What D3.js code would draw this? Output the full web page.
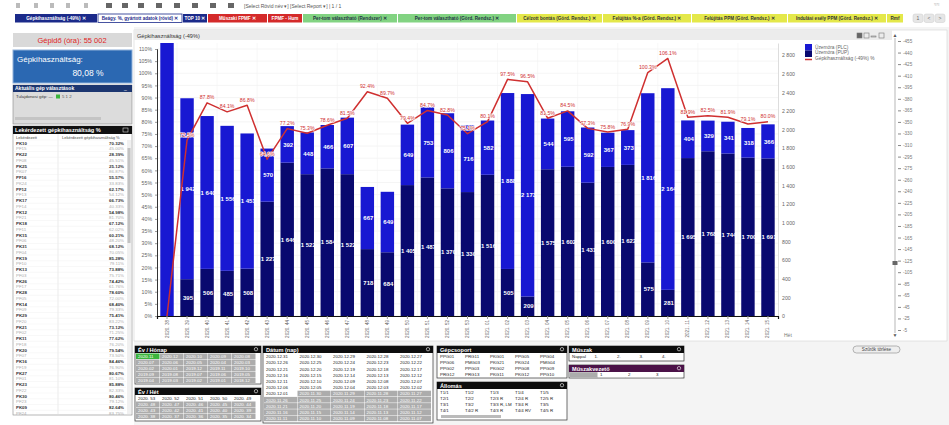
<!DOCTYPE html>
<html>
<head>
<meta charset="utf-8">
<title>Gépkihasználtság</title>
<script src="https://cdn.jsdelivr.net/npm/d3@7"></script>
<style>
  body { margin: 0; background: #f4f4f4; }
  svg text { font-family: "Liberation Sans", Arial, sans-serif; }
</style>
</head>
<body>
<svg id="dash" width="949" height="425"></svg>
<script>
// ---- chart data ----
var weeks = ["2020. 38","2020. 39","2020. 40","2020. 41","2020. 42","2020. 43","2020. 44","2020. 45",
  "2020. 46","2020. 47","2020. 48","2020. 49","2020. 50","2020. 51","2020. 52","2020. 53",
  "2021. 01","2021. 02","2021. 03","2021. 04","2021. 05","2021. 06","2021. 07","2021. 08",
  "2021. 09","2021. 10","2021. 11","2021. 12","2021. 13","2021. 14","2021. 15"];
var uzemPUP = [0, 395, 506, 485, 508, 1227, 1646, 1522, 1584, 1522, 718, 684, 1405, 1487, 1370, 1330,
  1516, 505, 209, 1575, 1602, 1431, 1600, 1622, 575, 281, 1695, 1768, 1744, 1700, 1691];
var uzemPLC = [3240, 1942, 1640, 1556, 1451, 570, 392, 448, 466, 607, 667, 649, 649, 753, 806, 716,
  582, 1888, 2173, 544, 595, 592, 367, 373, 1816, 2164, 404, 329, 341, 318, 366];
var kihasznPct = [0, 72.5, 87.8, 84.1, 86.8, 64.6, 77.2, 75.3, 78.6, 81.5, 92.4, 89.7, 79.4, 84.7, 82.8, 75.1,
  80.1, 97.5, 96.5, 81.5, 84.5, 77.3, 75.8, 76.9, 100.3, 106.1, 81.9, 82.5, 81.9, 79.1, 80.0];
var rightTicks = [0, 200, 400, 600, 800, 1000, 1200, 1400, 1600, 1800, 2000, 2200, 2400, 2600, 2800];
var legendNames = ["Üzemóra (PLC)", "Üzemóra (PUP)", "Gépkihasználtság (-49%) %"];

// ---- dashboard texts ----
var tabNames = ["Gépkihasználtság (-49%) \u2715", "Beágy. %, gyártott adatok (rövid) \u2715", "TOP 10 \u2715",
  "Műszaki FPMF \u2715", "FPMF - Hum", "Per-tom választható (Rendszer) \u2715",
  "Per-tom választható (Görd. Rendsz.) \u2715", "Célzott bontás (Görd. Rendsz.) \u2715",
  "Felújítás %-a (Görd. Rendsz.) \u2715", "Felújítás PPM (Görd. Rendsz.) \u2715",
  "Indulási esély PPM (Görd. Rendsz.) \u2715", "Rmf"];
var tabX = [15, 98, 183, 208, 268, 303, 398, 517, 603, 692, 788, 887, 904];
var tabFill = ["#1b2a8a", "#ffffff", "#1b2a8a", "#d42a2a", "#d42a2a", "#82d382", "#82d382",
  "#e4e84a", "#e4e84a", "#e4e84a", "#e4e84a", "#e4e84a"];
var tabInk = ["#fff", "#1b2a8a", "#fff", "#fff", "#fff", "#234", "#234", "#333", "#333", "#333", "#333", "#333"];

var tblGep = ["PK10","PF15","PK22","PF08","PK25","PK07","PF16","PK24","PF12","PF13","PK17","PF14",
  "PK12","PF21","PK18","PF11","PK15","PF06","PK31","PF04","PK19","PF10","PK13","PF03","PK26","PF17",
  "PK28","PF05","PK14","PF09","PK29","PF20","PK21","PF02","PK11","PF18","PK20","PF07","PK16","PF19",
  "PK27","PF01","PK23","PF22","PK30","PF23","PK09","PF24"];
var tblPct = ["70.32%","45.00%","28.39%","45.51%","25.12%","86.87%","55.57%","33.83%","62.17%","54.12%",
  "66.73%","40.33%","54.98%","81.70%","67.12%","62.02%","60.21%","48.20%","68.12%","70.05%","85.28%",
  "79.11%","73.88%","75.71%","74.42%","61.76%","78.60%","72.00%","68.40%","79.33%","75.41%","83.22%",
  "73.12%","71.25%","77.62%","76.20%","79.54%","73.50%","84.46%","76.90%","80.67%","81.10%","85.88%",
  "82.33%","80.46%","79.12%","82.64%","83.75%"];

var evHonap = ["2020.11","2020.12","2020.10","2020.09","2020.08","2020.07","2020.06","2020.05","2020.04",
  "2020.03","2020.02","2020.01","2019.12","2019.11","2019.10","2019.09","2019.08","2019.07","2019.06",
  "2019.05","2019.04","2019.03","2019.02","2019.01","2018.12"];
var evHet = ["2020. 53","2020. 52","2020. 51","2020. 50","2020. 49","2020. 48","2020. 47","2020. 46",
  "2020. 45","2020. 44","2020. 43","2020. 42","2020. 41","2020. 40","2020. 39","2020. 38","2020. 37",
  "2020. 36","2020. 35","2020. 34"];
var datumNap = ["2020.12.31","2020.12.30","2020.12.29","2020.12.28","2020.12.27","2020.12.26","2020.12.25",
  "2020.12.24","2020.12.23","2020.12.22","2020.12.21","2020.12.20","2020.12.19","2020.12.18","2020.12.17",
  "2020.12.16","2020.12.15","2020.12.14","2020.12.13","2020.12.12","2020.12.11","2020.12.10","2020.12.09",
  "2020.12.08","2020.12.07","2020.12.06","2020.12.05","2020.12.04","2020.12.03","2020.12.02","2020.12.01",
  "2020.11.30","2020.11.29","2020.11.28","2020.11.27","2020.11.26","2020.11.25","2020.11.24","2020.11.23",
  "2020.11.22","2020.11.21","2020.11.20","2020.11.19","2020.11.18","2020.11.17","2020.11.16","2020.11.15",
  "2020.11.14","2020.11.13","2020.11.12","2020.11.11","2020.11.10","2020.11.09","2020.11.08","2020.11.07"];
var gepcsoport = ["PPG01","PRG11","PKG01","PPG05","PPG04","PPG06","PMG03","PKG21","PKG24","PMG04",
  "PPG02","PPG03","PKG02","PPG08","PPG09","PRG12","PRG13","PKG11","PKG12","PPG10"];
var allomas = ["T1/1","T1/2","T1/3","T1/4","T1/5","T2/1","T2/2","T2/3 R","T2/4 R","T2/5 R",
  "T3/1","T3/2","T3/3 R, LM","T3/4 R","T3/5","T4/1","T4/2 R","T4/3 R","T4/4 RV","T4/5 R"];
var muszak = ["Nappal", "1.", "2.", "3.", "4."];
var muszakvez = ["", "1", "2", "3"];
var sliderLabels = ["-455","-440","-425","-410","-395","-380","-365","-350","-330","-310","-295","-275",
  "-260","-240","-225","-205","-185","-165","-145","-125","-105","-85","-65","-45","-25","-5"];

var navy = "#09096f", blue = "#1818d2", red = "#cf3030";
var fmtN = d3.formatLocale({decimal: ",", thousands: " ", grouping: [3], currency: ["", ""]}).format(",d");

var svg = d3.select("#dash");

// ---- top toolbar ----
svg.append("rect").attr("width", 949).attr("height", 27).attr("fill", "#fff");
var tb = svg.append("g").attr("fill", "#777");
[16, 34, 50, 66, 84, 106, 122, 138, 156, 174, 192, 210, 228].forEach(function (xx, i) {
  tb.append("rect").attr("x", xx).attr("y", 3).attr("width", i < 5 ? 4 : 6).attr("height", 5)
    .attr("fill", i < 5 ? "#bbb" : "#666");
});
tb.append("text").attr("x", 244).attr("y", 8).attr("font-size", 5).attr("fill", "#555")
  .text("[Select Rövid név \u25be]   [Select Report \u25be]  |  1 / 1");
svg.append("text").attr("x", 934).attr("y", 6).attr("font-size", 5).attr("fill", "#999").text("\u2248\u2248");

// tabs
tabNames.forEach(function (t, i) {
  var x0 = tabX[i], w = tabX[i + 1] - x0 - 1;
  svg.append("rect").attr("x", x0).attr("y", 14).attr("width", w).attr("height", 8.5)
    .attr("fill", tabFill[i]).attr("stroke", i == 1 ? "#1b2a8a" : "none").attr("stroke-width", 0.8);
  svg.append("text").attr("x", x0 + w / 2).attr("y", 20.2).attr("text-anchor", "middle")
    .attr("font-size", 4.6).attr("font-weight", "bold").attr("fill", tabInk[i]).text(t);
});
[913, 924, 935].forEach(function (xx, i) {
  svg.append("rect").attr("x", xx).attr("y", 14).attr("width", 10).attr("height", 8.5).attr("rx", 2)
    .attr("fill", "#e6e6e6").attr("stroke", "#ccc").attr("stroke-width", 0.5);
  svg.append("text").attr("x", xx + 5).attr("y", 20).attr("text-anchor", "middle").attr("font-size", 5)
    .attr("fill", "#666").text(["1", "<", ">"][i]);
});

// ---- left panel ----
svg.append("rect").attr("x", 0).attr("y", 27).attr("width", 134).attr("height", 398).attr("fill", "#fff");
svg.append("rect").attr("x", 13).attr("y", 33).attr("width", 119).attr("height", 14).attr("fill", "#d9d9d9");
svg.append("text").attr("x", 72).attr("y", 43).attr("text-anchor", "middle").attr("font-size", 7.5)
  .attr("fill", "#e02424").text("Gépidő (óra): 55 002");
svg.append("rect").attr("x", 13).attr("y", 50).attr("width", 119).attr("height", 33).attr("fill", "#2b68b2")
  .attr("stroke", "#8fb0d8").attr("stroke-width", 1);
svg.append("text").attr("x", 17).attr("y", 62).attr("font-size", 8).attr("fill", "#fff").text("Gépkihasználtság:");
svg.append("text").attr("x", 88).attr("y", 76).attr("text-anchor", "middle").attr("font-size", 8.5)
  .attr("fill", "#fff").text("80,08 %");

svg.append("rect").attr("x", 13).attr("y", 85).attr("width", 119).attr("height", 39).attr("fill", "#dcdcdc")
  .attr("stroke", "#888").attr("stroke-width", 0.6);
svg.append("rect").attr("x", 13).attr("y", 85).attr("width", 119).attr("height", 7).attr("fill", "#1c3670");
svg.append("text").attr("x", 15).attr("y", 90.3).attr("font-size", 5).attr("font-weight", "bold").attr("fill", "#fff")
  .text("Aktuális gép választások");
svg.append("text").attr("x", 124).attr("y", 90).attr("font-size", 5).attr("fill", "#fff").text("_");
svg.append("text").attr("x", 16).attr("y", 98).attr("font-size", 4.3).attr("fill", "#333").text("Tulajdonosi gép:  \u2014  ");
svg.append("rect").attr("x", 56).attr("y", 94.5).attr("width", 4).attr("height", 4).attr("fill", "#3cb43c");
svg.append("text").attr("x", 62).attr("y", 98).attr("font-size", 4.3).attr("fill", "#555").text("5  1  2");
svg.append("rect").attr("x", 15).attr("y", 117).attr("width", 86).attr("height", 3).attr("fill", "#c4c4c4");

// table
var tg = svg.append("g");
tg.append("rect").attr("x", 13).attr("y", 126).attr("width", 119).attr("height", 289).attr("fill", "#fff")
  .attr("stroke", "#888").attr("stroke-width", 0.6);
tg.append("rect").attr("x", 13).attr("y", 126).attr("width", 119).attr("height", 8).attr("fill", "#111");
tg.append("text").attr("x", 15).attr("y", 132.3).attr("font-size", 5.6).attr("font-weight", "bold").attr("fill", "#fff")
  .text("Lekérdezett gépkihasználtság %");
tg.append("rect").attr("x", 123).attr("y", 128).attr("width", 5).attr("height", 4).attr("fill", "none").attr("stroke", "#fff").attr("stroke-width", 0.5);
tg.append("text").attr("x", 16).attr("y", 138.5).attr("font-size", 4).attr("fill", "#444").text("Lekérdezett");
tg.append("text").attr("x", 62).attr("y", 138.5).attr("font-size", 4).attr("fill", "#444").text("Lekérdezett gépkihasználtság %");
tg.append("line").attr("x1", 58).attr("x2", 58).attr("y1", 134).attr("y2", 415).attr("stroke", "#ddd").attr("stroke-width", 0.6);
tblGep.forEach(function (g, i) {
  var yy = 140 + i * 5.75, dark = i % 2 == 0;
  tg.append("line").attr("x1", 13).attr("x2", 126).attr("y1", yy).attr("y2", yy).attr("stroke", "#eee").attr("stroke-width", 0.4);
  tg.append("text").attr("x", 16).attr("y", yy + 4.6).attr("font-size", 4.4).attr("fill", dark ? "#333" : "#aaa")
    .attr("font-weight", dark ? "bold" : "normal").text(g);
  tg.append("text").attr("x", 124).attr("y", yy + 4.6).attr("font-size", 4.4).attr("text-anchor", "end")
    .attr("fill", dark ? "#333" : "#aaa").attr("font-weight", dark ? "bold" : "normal").text(tblPct[i]);
});
tg.append("rect").attr("x", 127).attr("y", 140).attr("width", 4).attr("height", 274).attr("fill", "#f0f0f0");
tg.append("rect").attr("x", 127.5).attr("y", 148).attr("width", 3).attr("height", 95).attr("fill", "#c2c2c2");

// ---- chart panel ----
svg.append("rect").attr("x", 134).attr("y", 30).attr("width", 813).attr("height", 311).attr("fill", "#fff")
  .attr("stroke", "#d4d4d4").attr("stroke-width", 0.6);
svg.append("rect").attr("x", 134).attr("y", 30).attr("width", 758).attr("height", 10).attr("fill", "#ececec");
svg.append("text").attr("x", 137).attr("y", 37.5).attr("font-size", 5.6).attr("fill", "#333").text("Gépkihasználtság (-49%)");
[857, 864, 871, 879].forEach(function (xx, i) {
  svg.append("rect").attr("x", xx).attr("y", 33).attr("width", 5).attr("height", i == 2 ? 1 : 5)
    .attr("transform", i == 2 ? "translate(0,3)" : null)
    .attr("fill", i == 0 ? "#666" : "none").attr("stroke", "#777").attr("stroke-width", 0.6);
});

var x = d3.scaleBand().domain(weeks).range([157, 778]).paddingInner(0.33).paddingOuter(0.165);
var yR = d3.scaleLinear().domain([0, 2930]).range([316, 43]);
var yL = d3.scaleLinear().domain([0, 1.1]).range([316, 49]);

svg.append("clipPath").attr("id", "plotclip").append("rect")
  .attr("x", 157).attr("y", 43).attr("width", 621).attr("height", 273);

// grid
var grid = svg.append("g");
grid.selectAll("line.h").data(yL.ticks(22)).join("line")
  .attr("x1", 157).attr("x2", 778).attr("y1", function (d) { return yL(d); }).attr("y2", function (d) { return yL(d); })
  .attr("stroke", "#efefef").attr("stroke-width", 0.6);
grid.selectAll("line.v").data(weeks.filter(function (d, i) { return i % 2 == 1; })).join("line")
  .attr("y1", 43).attr("y2", 316).attr("x1", function (d) { return x(d) - x.step() * 0.165; })
  .attr("x2", function (d) { return x(d) - x.step() * 0.165; })
  .attr("stroke", "#f1f1f1").attr("stroke-width", 0.6);

var rows = weeks.map(function (w, i) {
  return {week: w, pup: uzemPUP[i], plc: uzemPLC[i], pct: kihasznPct[i]};
});
var series = d3.stack().keys(["pup", "plc"])(rows);
var colorOf = {pup: navy, plc: blue};

var barG = svg.append("g").attr("clip-path", "url(#plotclip)");
series.forEach(function (s) {
  barG.selectAll(null).data(s).join("rect")
    .attr("x", function (d) { return x(d.data.week); })
    .attr("width", x.bandwidth())
    .attr("y", function (d) { return yR(d[1]); })
    .attr("height", function (d) { return yR(d[0]) - yR(d[1]); })
    .attr("fill", colorOf[s.key]);
});

// segment labels
var lblG = svg.append("g");
series.forEach(function (s) {
  lblG.selectAll(null)
    .data(s.filter(function (d) {
      return d[1] <= yR.domain()[1] && yR(d[0]) - yR(d[1]) > 9;
    }))
    .join("text")
    .attr("x", function (d) { return x(d.data.week) + x.bandwidth() / 2 + 1; })
    .attr("y", function (d) { return (yR(d[0]) + yR(d[1])) / 2 + 2.2; })
    .attr("text-anchor", "middle").attr("font-size", 6).attr("font-weight", "bold").attr("fill", "#fff")
    .text(function (d) { return fmtN(d.data[s.key]); });
});

// line
var line = d3.line()
  .x(function (d) { return x(d.week) + x.bandwidth() / 2; })
  .y(function (d) { return yL(d.pct / 100); });
svg.append("path").datum(rows).attr("d", line).attr("fill", "none")
  .attr("stroke", red).attr("stroke-width", 1.5).attr("stroke-linejoin", "round");
svg.append("g").selectAll("text").data(rows.filter(function (d) { return d.pct > 0; })).join("text")
  .attr("x", function (d) { return x(d.week) + x.bandwidth() / 2; })
  .attr("y", function (d) { return yL(d.pct / 100) - 3.5; })
  .attr("text-anchor", "middle").attr("font-size", 5.2).attr("fill", red)
  .attr("stroke", "#fff").attr("stroke-width", 1.2).attr("paint-order", "stroke")
  .text(function (d) { return d.pct.toFixed(1) + "%"; });

// axes
var axL = svg.append("g").attr("transform", "translate(157,0)")
  .call(d3.axisLeft(yL).ticks(22).tickFormat(d3.format(".0%")).tickSize(2));
var axR = svg.append("g").attr("transform", "translate(778,0)")
  .call(d3.axisRight(yR).tickValues(rightTicks).tickFormat(fmtN).tickSize(0).tickPadding(4));
var axB = svg.append("g").attr("transform", "translate(0,316)")
  .call(d3.axisBottom(x).tickSize(3));
axB.selectAll("text").attr("transform", "rotate(-90)").attr("text-anchor", "end")
  .attr("x", -4).attr("y", 0).attr("dy", "0.32em");
[axL, axR, axB].forEach(function (a) {
  a.selectAll("text").attr("font-size", 5.2).attr("fill", "#666");
  a.selectAll("line").attr("stroke", "#999");
});
axB.selectAll("text").attr("font-size", 4.6);
axL.select(".domain").attr("stroke", "#333");
axR.select(".domain").attr("stroke", "#ddd");
axB.select(".domain").attr("stroke", "#111").attr("stroke-width", 1.2);
svg.append("text").attr("x", 784).attr("y", 337).attr("font-size", 5).attr("fill", "#777").text("Hét");

// legend
var lg = svg.append("g").attr("transform", "translate(805,44)");
lg.append("rect").attr("width", 7).attr("height", 6.5).attr("fill", blue);
lg.append("rect").attr("y", 6.5).attr("width", 7).attr("height", 6.5).attr("fill", navy);
lg.append("line").attr("x1", 0).attr("x2", 7).attr("y1", 15.5).attr("y2", 15.5).attr("stroke", red).attr("stroke-width", 1.5);
legendNames.forEach(function (n, i) {
  lg.append("text").attr("x", 10).attr("y", 4.8 + i * 5.6).attr("font-size", 4.8).attr("fill", "#666").text(n);
});

// vertical slider on the right
var sl = svg.append("g");
sl.append("line").attr("x1", 895).attr("x2", 895).attr("y1", 38).attr("y2", 333).attr("stroke", "#999").attr("stroke-width", 0.7);
sl.append("text").attr("x", 895).attr("y", 37).attr("text-anchor", "middle").attr("font-size", 5).attr("fill", "#555").text("\u25b2");
sl.append("text").attr("x", 895).attr("y", 337).attr("text-anchor", "middle").attr("font-size", 5).attr("fill", "#555").text("\u25bc");
var sy = d3.scalePoint().domain(sliderLabels).range([41, 330]);
var sAx = sl.append("g").attr("transform", "translate(898,0)").call(d3.axisRight(sy).tickSize(3).tickPadding(2));
sAx.select(".domain").remove();
sAx.selectAll("text").attr("font-size", 4.6).attr("fill", "#777");
sAx.selectAll("line").attr("stroke", "#888");
sl.append("rect").attr("x", 892.5).attr("y", 261).attr("width", 5).attr("height", 4).attr("fill", "#666");

// clear filter button
svg.append("rect").attr("x", 853).attr("y", 346).attr("width", 47).attr("height", 7).attr("rx", 3.5)
  .attr("fill", "#eee").attr("stroke", "#888").attr("stroke-width", 0.6);
svg.append("text").attr("x", 876.5).attr("y", 351.3).attr("text-anchor", "middle").attr("font-size", 4.6)
  .attr("fill", "#444").text("Szűrők törlése");

// ---- list boxes ----
function listBox(x0, y0, w, h, title, headColor) {
  var g = svg.append("g").attr("transform", "translate(" + x0 + "," + y0 + ")");
  g.append("rect").attr("width", w).attr("height", h).attr("fill", "#fff").attr("stroke", "#333").attr("stroke-width", 0.7);
  g.append("rect").attr("width", w).attr("height", 7).attr("fill", headColor || "#0d0d0d");
  g.append("text").attr("x", 3).attr("y", 5.6).attr("font-size", 5.6).attr("font-weight", "bold").attr("fill", "#fff").text(title);
  g.append("circle").attr("cx", w - 5).attr("cy", 3.2).attr("r", 1.7).attr("fill", "none").attr("stroke", "#fff").attr("stroke-width", 0.6);
  return g;
}
function fillCells(g, vals, cols, x0, y0, cw, rh, stateOf) {
  vals.forEach(function (v, i) {
    var cx = x0 + (i % cols) * cw, cy = y0 + Math.floor(i / cols) * rh, st = stateOf(i);
    var bg = st == "sel" ? "#3cb43c" : st == "exc" ? "#acacac" : "#fff";
    g.append("rect").attr("x", cx).attr("y", cy).attr("width", cw - 0.5).attr("height", rh - 0.5).attr("fill", bg);
    g.append("text").attr("x", cx + 2).attr("y", cy + rh - 1.6).attr("font-size", 4.4)
      .attr("fill", st == "pos" ? "#222" : "#fff").text(v);
  });
}
var b1 = listBox(135, 346, 126, 38, "Év / Hónap");
fillCells(b1, evHonap, 5, 1, 7.5, 24, 6, function (i) { return i == 0 ? "sel" : "exc"; });
var b2 = listBox(135, 388, 126, 33, "Év / Hét");
fillCells(b2, evHet, 5, 1, 7.5, 24, 6, function (i) { return i < 5 ? "pos" : "exc"; });
var b3 = listBox(263, 346, 170, 77, "Dátum (nap)");
fillCells(b3, datumNap, 5, 1, 7.5, 33.5, 6.2, function (i) { return i < 31 ? "pos" : "exc"; });
var b4 = listBox(437, 346, 130, 32, "Gépcsoport");
fillCells(b4, gepcsoport, 5, 1, 7.5, 25, 6, function () { return "pos"; });
var b5 = listBox(437, 382, 130, 38, "Állomás");
fillCells(b5, allomas, 5, 1, 7.5, 25, 6, function () { return "pos"; });
b5.append("rect").attr("x", 4).attr("y", 33).attr("width", 60).attr("height", 3).attr("fill", "#bbb");
var b6 = listBox(569, 346, 115, 15, "Műszak");
fillCells(b6, muszak, 5, 1, 7.5, 22.5, 6.5, function () { return "pos"; });
var b7 = listBox(569, 365, 115, 13, "Műszakvezető", "#4b1248");
fillCells(b7, muszakvez, 4, 1, 7.2, 28, 5.5, function (i) { return i == 0 ? "exc" : "pos"; });
</script>
</body>
</html>
